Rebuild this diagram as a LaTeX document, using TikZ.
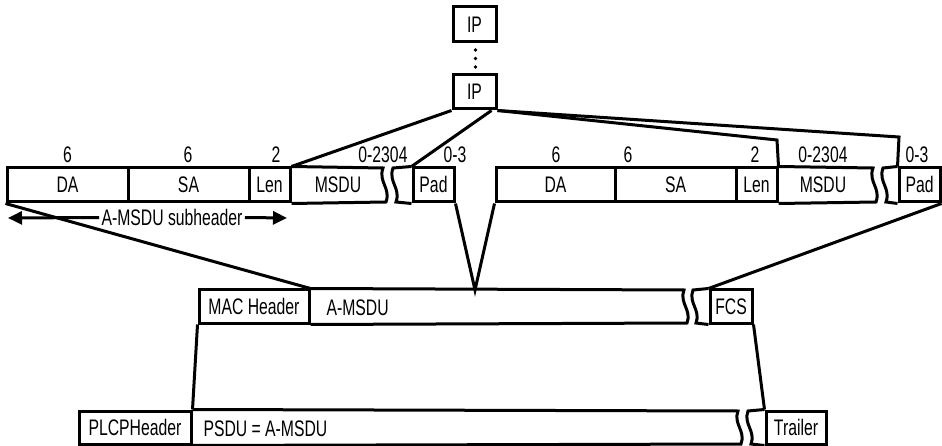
\documentclass[tikz,border=0pt]{standalone}
\usepackage{fontspec}
\setmainfont{Liberation Sans}[FakeStretch=0.7]
\usetikzlibrary{arrows.meta}
\begin{document}
\begin{tikzpicture}[x=1pt,y=-1pt,line width=3pt,line join=miter,
  font=\fontsize{22.5}{26}\selectfont,
  cell/.style={draw,rectangle,inner sep=0pt,minimum height=34pt,text height=16pt,text depth=0pt},
  txt/.style={inner sep=0pt,text height=16pt,text depth=0pt},
  lbl/.style={anchor=base,inner sep=0pt},
  arr/.style={-{Triangle[length=14pt,width=13pt]}}]
\useasboundingbox (0,0) rectangle (942,446);

% IP boxes
\node[cell,minimum width=43pt,minimum height=35pt] (ip1) at (474.5,24.5) {IP};
\node[cell,minimum width=43pt,minimum height=34pt] (ip2) at (474.5,92) {IP};
\fill (475.5,50) circle (1.8pt) (475.5,58.5) circle (1.8pt) (475.5,67) circle (1.8pt);

% Row 1, left subframe
\node[cell,minimum width=121pt] (da1) at (67.5,185) {DA};
\node[cell,minimum width=121pt] (sa1) at (188.5,185) {SA};
\node[cell,minimum width=41pt] (len1) at (269.5,185) {Len};
\node[txt] (msdu1) at (338,185) {MSDU};
\node[cell,minimum width=41pt] (pad1) at (433.5,185) {Pad};
\draw (len1.north east) -- (383,168) .. controls (378,182) and (391,188) .. (386,202) -- (len1.south east);
\draw (pad1.north west) -- (393,168) .. controls (388,182) and (401,188) .. (396,202) -- (pad1.south west);

% Row 1, right subframe
\node[cell,minimum width=119pt] (da2) at (555.5,185) {DA};
\node[cell,minimum width=121pt] (sa2) at (675.5,185) {SA};
\node[cell,minimum width=41pt] (len2) at (756.5,185) {Len};
\node[txt] (msdu2) at (823,185) {MSDU};
\node[cell,minimum width=41pt] (pad2) at (919.5,185) {Pad};
\draw (len2.north east) -- (873,168) .. controls (868,182) and (881,188) .. (876,202) -- (len2.south east);
\draw (pad2.north west) -- (883,168) .. controls (878,182) and (891,188) .. (886,202) -- (pad2.south west);

% Size labels
\node[lbl] (l1) at (67.5,163) {6};
\node[lbl] (l2) at (188,163) {6};
\node[lbl] (l3) at (276,163) {2};
\node[lbl] (l4) at (383,163) {0-2304};
\node[lbl] (l5) at (455,163) {0-3};
\node[lbl] (l6) at (556,163) {6};
\node[lbl] (l7) at (628,163) {6};
\node[lbl] (l8) at (755,163) {2};
\node[lbl] (l9) at (823,163) {0-2304};
\node[lbl] (l10) at (917,163) {0-3};

% subheader arrow
\node[txt,inner xsep=1pt] (sub) at (172,217.5) {A-MSDU subheader};
\coordinate (subl) at (8,218);
\coordinate (subr) at (287,218);
\draw[arr] (sub.west) -- (subl);
\draw[arr] (sub.east) -- (subr);

% Middle row (MAC frame)
\node[cell,minimum width=110pt,minimum height=33pt] (mac) at (254,306.5) {MAC Header};
\node[anchor=base west,inner sep=0pt] (amsdu) at (325,315) {A-MSDU};
\node[cell,minimum width=42pt,minimum height=33pt] (fcs) at (731,306.5) {FCS};
\draw (mac.north east) -- (684,290) .. controls (679,303) and (692,310) .. (687,323) -- (mac.south east);
\draw (fcs.north west) -- (693,290) .. controls (688,303) and (701,310) .. (696,323) -- (fcs.south west);

% Bottom row (PHY frame)
\node[cell,minimum width=112pt,minimum height=33pt] (plcp) at (135,427.5) {PLCPHeader};
\node[anchor=base west,inner sep=0pt] (psdu) at (202,436) {PSDU = A-MSDU};
\node[cell,minimum width=60pt,minimum height=33pt] (trl) at (796,427.5) {Trailer};
\draw (plcp.north east) -- (738,411) .. controls (733,424) and (746,431) .. (741,444) -- (plcp.south east);
\draw (trl.north west) -- (748,411) .. controls (743,424) and (756,431) .. (751,444) -- (trl.south west);

% Connectors
\coordinate (k1) at (777,140);
\coordinate (k2) at (899,137);
\coordinate (vv) at (475,290);
\draw (ip2.south west) -- (len1.north east);
\draw ([xshift=-6pt]ip2.south east) -- (pad1.north west);
\draw (ip2.south east) -- (k1) -- (len2.north east);
\draw (ip2.south east) -- (k2) -- (pad2.north west);
\draw (da1.south west) -- (mac.north east);
\draw (pad1.south east) -- (vv) -- (da2.south west);
\draw (pad2.south east) -- (fcs.north west);
\draw (mac.south west) -- (plcp.north east);
\draw (fcs.south east) -- (trl.north west);
\end{tikzpicture}
\end{document}
